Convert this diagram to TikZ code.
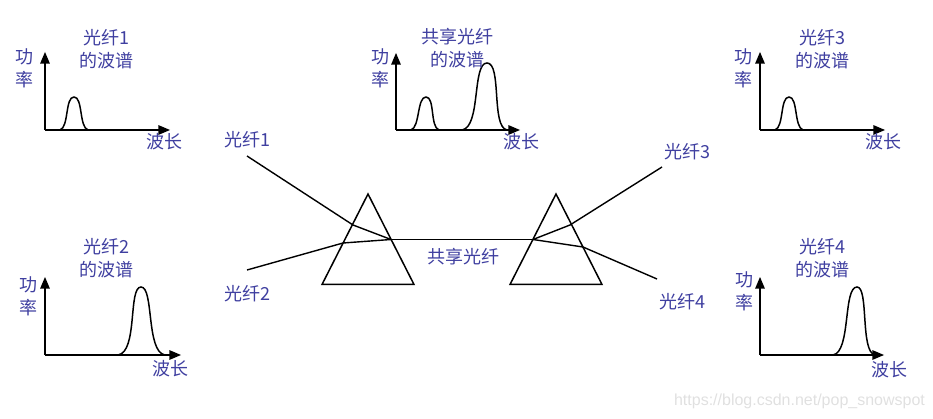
\documentclass[tikz,border=0pt]{standalone}
\usepackage{fontspec}
\setmainfont{Noto Sans CJK SC}
\newfontfamily\markfont{Liberation Sans}
\usetikzlibrary{arrows,positioning}
\definecolor{labelblue}{RGB}{63,63,160}

\begin{document}
\begin{tikzpicture}[x=1pt,y=-1pt,thick,
    every node/.style={inner sep=0pt},
    label/.style={text=labelblue,font=\fontsize{18}{23}\selectfont,align=center},
    axis/.style={line width=1.7pt,-triangle 45},
    peak/.style={line width=1.5pt},
    fiber/.style={line width=1.4pt},
    prism/.style={line width=1.5pt}]
    \useasboundingbox (0,0) rectangle (933,419);

    \coordinate (O1) at (45,130);
    \coordinate (Y1) at (45,52);
    \coordinate (X1) at (170,130);
    \draw[axis] (O1) -- (Y1);
    \draw[axis] (O1) -- (X1);
    \draw[peak] (60,130) .. controls (69,127) and (65,97) .. (74,97) .. controls (83,97) and (79,127) .. (88,130);
    \node[label] (T1) at (106,49.5) {光纤1\\的波谱};
    \node[label] (P1) at (25,68.5) {功\\率};
    \node[label] (W1) at (164,142) {波长};

    \coordinate (O0) at (396,130);
    \coordinate (Y0) at (396,53);
    \coordinate (X0) at (520,130);
    \draw[axis] (O0) -- (Y0);
    \draw[axis] (O0) -- (X0);
    \draw[peak] (411,130) .. controls (420,127) and (417,97) .. (426,97) .. controls (435,97) and (430,127) .. (439,130);
    \draw[peak] (462,130) .. controls (481,127) and (472,63) .. (487,63) .. controls (502,63) and (491,127) .. (507,130);
    \node[label] (T0) at (457,48.5) {共享光纤\\的波谱};
    \node[label] (P0) at (380,68.5) {功\\率};
    \node[label] (W0) at (521,142) {波长};

    \coordinate (O3) at (760,130);
    \coordinate (Y3) at (760,52);
    \coordinate (X3) at (885,130);
    \draw[axis] (O3) -- (Y3);
    \draw[axis] (O3) -- (X3);
    \draw[peak] (775,130) .. controls (784,127) and (780,97) .. (789,97) .. controls (798,97) and (794,127) .. (803,130);
    \node[label] (T3) at (822,49.5) {光纤3\\的波谱};
    \node[label] (P3) at (743,68.5) {功\\率};
    \node[label] (W3) at (883,142) {波长};

    \coordinate (O2) at (45,355);
    \coordinate (Y2) at (45,277);
    \coordinate (X2) at (181,355);
    \draw[axis] (O2) -- (Y2);
    \draw[axis] (O2) -- (X2);
    \draw[peak] (118,355) .. controls (138,352) and (128,287) .. (141,287) .. controls (154,287) and (146,352) .. (165,355);
    \node[label] (T2) at (106,258.5) {光纤2\\的波谱};
    \node[label] (P2) at (28,296.5) {功\\率};
    \node[label] (W2) at (170,369) {波长};

    \coordinate (O4) at (760,355);
    \coordinate (Y4) at (760,277);
    \coordinate (X4) at (884,355);
    \draw[axis] (O4) -- (Y4);
    \draw[axis] (O4) -- (X4);
    \draw[peak] (833,355) .. controls (851,352) and (843,287) .. (857,287) .. controls (869,287) and (860,352) .. (875,355);
    \node[label] (T4) at (822,258.5) {光纤4\\的波谱};
    \node[label] (P4) at (744,291.5) {功\\率};
    \node[label] (W4) at (889,370) {波长};

    \coordinate (A0) at (368,194);
    \coordinate (B0) at (322,284.5);
    \coordinate (C0) at (414,284.5);
    \coordinate (A1) at (556,194);
    \coordinate (B1) at (510,284.5);
    \coordinate (C1) at (602,284.5);
    \draw[prism] (A0) -- (B0) -- (C0) -- cycle;
    \draw[prism] (A1) -- (B1) -- (C1) -- cycle;

    \coordinate (M0) at (391,239.5);
    \coordinate (M1) at (533,239.5);
    \coordinate (F1) at (247,156);
    \coordinate (F2) at (247,270);
    \coordinate (F3) at (662,167);
    \coordinate (F4) at (657,279);
    \coordinate (R1) at (353,225);
    \coordinate (R2) at (343,243);
    \coordinate (R3) at (570,225);
    \coordinate (R4) at (583,247);
    \draw[fiber] (F1) -- (R1) -- (M0);
    \draw[fiber] (F2) -- (R2) -- (M0);
    \draw[fiber] (M0) -- (M1);
    \draw[fiber] (F3) -- (R3) -- (M1);
    \draw[fiber] (F4) -- (R4) -- (M1);

    \node[label] (L1) at (247,140) {光纤1};
    \node[label] (L2) at (247,294) {光纤2};
    \node[label] (L3) at (687,152) {光纤3};
    \node[label] (L4) at (682,302) {光纤4};
    \node[label] (S0) at (463,257) {共享光纤};

    \node[text=black!12,font=\markfont\fontsize{16}{20}\selectfont] (W) at (799.5,401) {https://blog.csdn.net/pop\_snowspot};
\end{tikzpicture}
\end{document}
